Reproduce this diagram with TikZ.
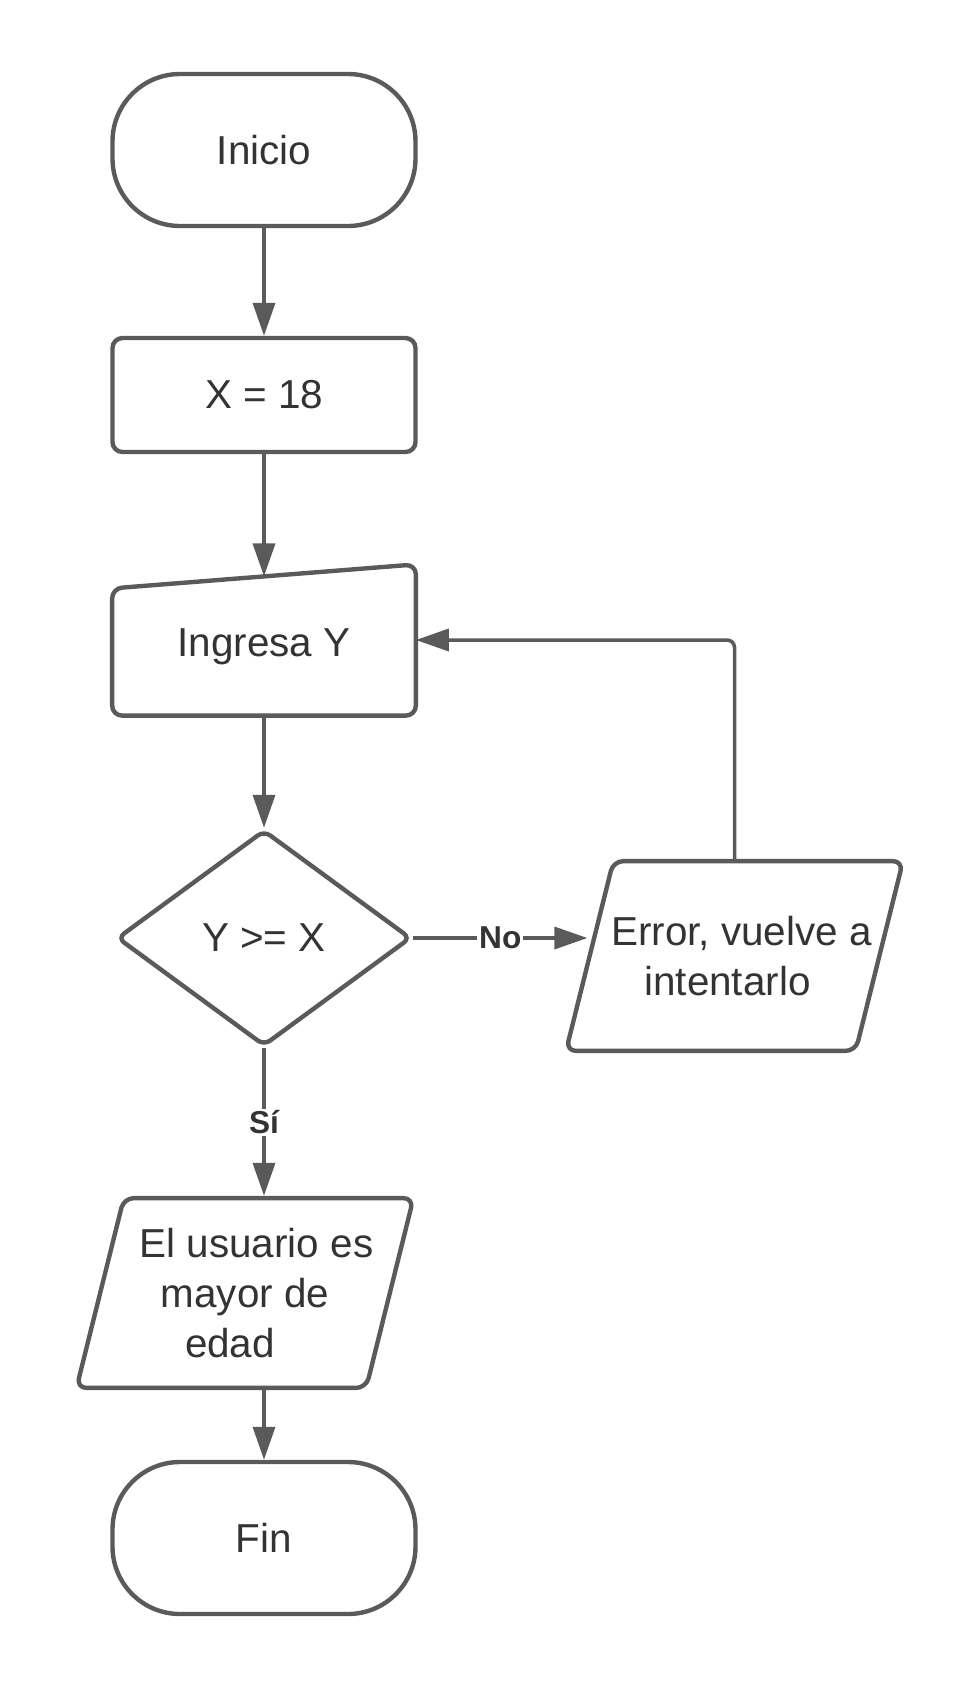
\documentclass[tikz,border=0pt]{standalone}
\usepackage{fontspec}
\setmainfont{Liberation Sans}
\usepackage{tikz}
\usetikzlibrary{shapes.geometric, arrows.meta}
\definecolor{linegray}{HTML}{5A5A5A}
\definecolor{textgray}{HTML}{333333}
\tikzstyle{startstop} = [rectangle, rounded corners=1.35cm, minimum width=6.06cm, minimum height=3.04cm, text centered, draw=linegray, line width=2.5pt, text=textgray]
\tikzstyle{process} = [rectangle, rounded corners=0.2cm, minimum width=6.06cm, minimum height=2.28cm, text centered, draw=linegray, line width=2.5pt, text=textgray]
\tikzstyle{manual} = [rectangle, minimum width=6.06cm, minimum height=3.01cm, text height=0.82cm, text centered, text=textgray]
\tikzstyle{decision} = [diamond, rounded corners=0.15cm, minimum width=5.88cm, minimum height=4.32cm, text centered, draw=linegray, line width=2.5pt, text=textgray]
\tikzstyle{io} = [trapezium, trapezium left angle=76, trapezium right angle=104, trapezium stretches body=true, rounded corners=0.2cm, minimum width=6.74cm, minimum height=3.7cm, inner xsep=-0.4cm, align=center, draw=linegray, line width=2.5pt, text=textgray]
\tikzstyle{answer} = [fill=white, inner sep=1pt, font=\fontsize{18}{20}\selectfont\bfseries, text=textgray]
\tikzstyle{arrow} = [line width=2pt, draw=linegray, -{Triangle[length=0.66cm, width=0.44cm]}]

\begin{document}
\begin{tikzpicture}[node distance=4.9cm, font=\fontsize{23}{28.5}\selectfont]
\useasboundingbox (0,0) rectangle (19.5,-33.76);

\node (inicio) [startstop] at (5.28,-3.0) {Inicio};
\node (x18) [process, below of=inicio] {X = 18};
\node (ingresa) [manual, below of=x18] {Ingresa Y};
\draw [draw=linegray, line width=2.5pt, rounded corners=0.2cm] (ingresa.south west) -- ([yshift=-0.48cm]ingresa.north west) -- coordinate (ingtop) (ingresa.north east) -- (ingresa.south east) -- cycle;
\node (cond) [decision, below of=ingresa, yshift=-1.06cm] {Y >= X};
\node (error) [io, inner ysep=1.1cm, right of=cond, xshift=4.51cm, yshift=-0.36cm] {\hspace*{0.28cm}Error, vuelve a\\intentarlo\hspace*{0.28cm}};
\node (usuario) [io, inner ysep=0.6cm, below of=cond, yshift=-2.2cm, xshift=-0.38cm] {\hspace*{0.46cm}El usuario es\\mayor de\\edad\hspace*{0.6cm}};
\node (fin) [startstop, below of=usuario, xshift=0.38cm] {Fin};

\draw [arrow] (inicio) -- (x18);
\draw [arrow] (x18) -- (ingtop);
\draw [arrow] (ingresa) -- (cond);
\draw [arrow] (cond.east) -- node[answer] {No} (cond.east -| error.west);
\draw [arrow] (cond) -- node[answer] {Sí} (cond |- usuario.north);
\draw [arrow] (fin.north |- usuario.south) -- (fin);
\draw [arrow, rounded corners=0.15cm] (error.north) |- (ingresa.east);

\end{tikzpicture}
\end{document}
